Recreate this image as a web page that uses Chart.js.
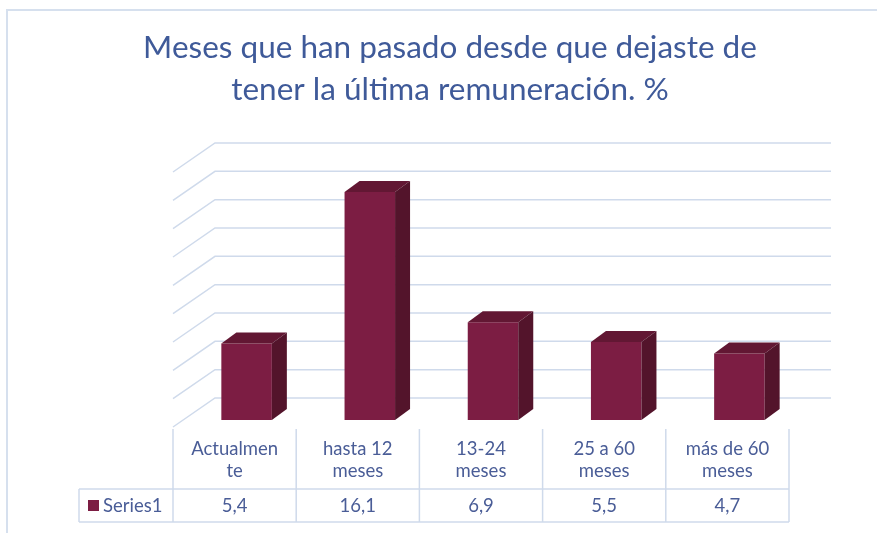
<!DOCTYPE html>
<html>
<head>
<meta charset="utf-8">
<script src="https://cdn.jsdelivr.net/npm/chart.js@4.4.1/dist/chart.umd.min.js"></script>
<style>
    html, body { margin: 0; padding: 0; background: #fff; }
    #wrap { width: 877px; height: 533px; position: relative; }
</style>
</head>
<body>
<div id="wrap"><canvas id="myChart" width="877" height="533"></canvas></div>
<script>
// chart data
const titleLines = ["Meses que han pasado desde que dejaste de", "tener la última remuneración. %"];
const categories = [["Actualmen", "te"], ["hasta 12", "meses"], ["13-24", "meses"], ["25 a 60", "meses"], ["más de 60", "meses"]];
const seriesName = "Series1";
const values = [5.4, 16.1, 6.9, 5.5, 4.7];
const valueLabels = ["5,4", "16,1", "6,9", "5,5", "4,7"];

const frontColor = "#7c1d43";
const topColor = "#621733";
const sideColor = "#53142b";
const lineColor = "#cfdaeb";
const textColor = "#4a5d97";

// offsets of back wall and front edge from the bar plane
const back = { dx: 30, dy: -22 };
const front = { dx: -12, dy: 7 };
const depth = { dx: 15, dy: -11 };

const wallsAndTable = {
    id: 'wallsAndTable',
    beforeDatasetsDraw(chart) {
        const ctx = chart.ctx;
        const x = chart.scales.x;
        const y = chart.scales.y;

        // frame
        ctx.save();
        ctx.strokeStyle = "#d6e0ee";
        ctx.lineWidth = 2;
        ctx.beginPath();
        ctx.moveTo(7, 533);
        ctx.lineTo(7, 10);
        ctx.lineTo(877, 10);
        ctx.stroke();

        // title
        ctx.fillStyle = "#3f5a99";
        ctx.font = "31.5px Lato";
        ctx.textAlign = "center";
        ctx.textBaseline = "middle";
        ctx.fillText(titleLines[0], 450, 48);
        ctx.fillText(titleLines[1], 450, 90);

        // walls
        ctx.strokeStyle = lineColor;
        ctx.lineWidth = 1.5;
        y.ticks.forEach(t => {
            const py = y.getPixelForValue(t.value);
            ctx.beginPath();
            ctx.moveTo(x.left + front.dx, py + front.dy);
            ctx.lineTo(x.left + back.dx, py + back.dy);
            ctx.lineTo(x.right + back.dx, py + back.dy);
            ctx.stroke();
        });
        ctx.restore();
    },
    afterDatasetsDraw(chart) {
        const ctx = chart.ctx;
        const x = chart.scales.x;
        const y = chart.scales.y;
        const meta = chart.getDatasetMeta(0);

        ctx.save();
        meta.data.forEach(bar => {
            const x0 = bar.x - bar.width / 2;
            const x1 = bar.x + bar.width / 2;
            const yt = bar.y;
            const yb = bar.base;
            // top
            ctx.fillStyle = topColor;
            ctx.beginPath();
            ctx.moveTo(x0, yt);
            ctx.lineTo(x0 + depth.dx, yt + depth.dy);
            ctx.lineTo(x1 + depth.dx, yt + depth.dy);
            ctx.lineTo(x1, yt);
            ctx.closePath();
            ctx.fill();
            // side
            ctx.fillStyle = sideColor;
            ctx.beginPath();
            ctx.moveTo(x1, yt);
            ctx.lineTo(x1 + depth.dx, yt + depth.dy);
            ctx.lineTo(x1 + depth.dx, yb + depth.dy);
            ctx.lineTo(x1, yb);
            ctx.closePath();
            ctx.fill();
        });

        // data table
        const n = categories.length;
        const w = (x.right - x.left) / n;
        const left = x.left + front.dx;
        const right = x.right + front.dx;
        const top = y.bottom + front.dy + 2;
        const mid = 489;
        const bottom = 522;
        const legendLeft = 79;

        ctx.strokeStyle = lineColor;
        ctx.lineWidth = 1.5;
        ctx.beginPath();
        for (let i = 0; i <= n; i++) {
            ctx.moveTo(left + i * w, top);
            ctx.lineTo(left + i * w, bottom);
        }
        ctx.moveTo(legendLeft, mid);
        ctx.lineTo(right, mid);
        ctx.moveTo(legendLeft, bottom);
        ctx.lineTo(right, bottom);
        ctx.moveTo(legendLeft, mid);
        ctx.lineTo(legendLeft, bottom);
        ctx.stroke();

        ctx.fillStyle = textColor;
        ctx.font = "18.5px Lato";
        ctx.textAlign = "center";
        ctx.textBaseline = "middle";
        categories.forEach((c, i) => {
            const cx = left + (i + 0.5) * w;
            ctx.fillText(c[0], cx, 449);
            ctx.fillText(c[1], cx, 471);
            ctx.fillText(valueLabels[i], cx, 506);
        });

        // legend key
        ctx.fillStyle = frontColor;
        ctx.fillRect(88, 500, 11, 11);
        ctx.fillStyle = textColor;
        ctx.textAlign = "left";
        ctx.fillText(seriesName, 103, 506);
        ctx.restore();
    }
};

new Chart("myChart", {
    type: "bar",
    data: {
        labels: categories,
        datasets: [{
            label: seriesName,
            data: values,
            backgroundColor: frontColor,
            borderWidth: 0,
            barPercentage: 0.41,
            categoryPercentage: 1
        }]
    },
    options: {
        responsive: false,
        animation: false,
        layout: {
            padding: { left: 185, right: 76, top: 165, bottom: 113 }
        },
        scales: {
            x: { display: false },
            y: { display: false, min: 0, max: 18, ticks: { stepSize: 2 } }
        },
        plugins: {
            legend: { display: false },
            tooltip: { enabled: false },
            title: { display: false }
        }
    },
    plugins: [wallsAndTable]
});
</script>
</body>
</html>
